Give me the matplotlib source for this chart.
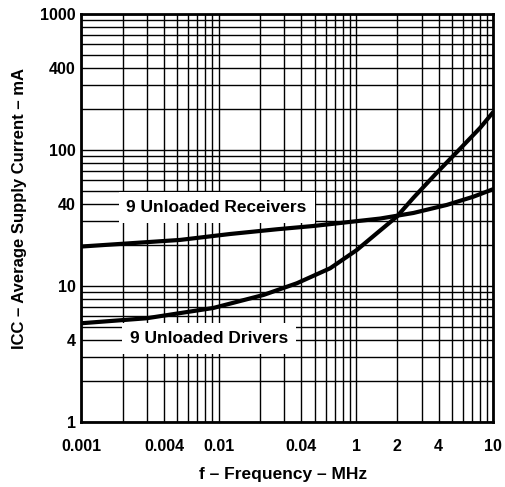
import matplotlib
matplotlib.use("Agg")
import matplotlib.pyplot as plt
from matplotlib.ticker import LogLocator, NullFormatter, FixedLocator, FixedFormatter

# ---- data (x in axis units; tick labels as printed on the chart) ----
recv_f = [0.001, 0.00523, 0.0121, 0.0265, 0.049, 0.15, 0.262, 0.458, 0.716, 1.0]
recv_i = [19.5, 21.8, 24.1, 26.1, 27.6, 31.3, 34.4, 39.4, 45.3, 51.5]

drv_f = [0.001, 0.00299, 0.00914, 0.0212, 0.0371, 0.0648, 0.1014, 0.1417,
         0.198, 0.262, 0.388, 0.573, 0.801, 1.0]
drv_i = [5.33, 5.8, 6.9, 8.6, 10.48, 13.5, 18.4, 24.4,
         32.3, 44.5, 68.0, 102.0, 145.0, 190.0]

x_ticks = [0.001, 0.004, 0.01, 0.04, 0.1, 0.2, 0.4, 1.0]
x_labels = ["0.001", "0.004", "0.01", "0.04", "1", "2", "4", "10"]
y_ticks = [1, 4, 10, 40, 100, 400, 1000]
y_labels = ["1", "4", "10", "40", "100", "400", "1000"]

plt.rcParams["font.family"] = ["Liberation Sans", "DejaVu Sans"]
plt.rcParams["font.weight"] = "bold"

fig = plt.figure(figsize=(5.05, 4.87), dpi=100)
ax = fig.add_axes([0.161, 0.133, 0.816, 0.839])

ax.set_xscale("log")
ax.set_yscale("log")
ax.set_xlim(0.001, 1.0)
ax.set_ylim(1, 1000)

ax.xaxis.set_minor_locator(LogLocator(base=10, subs=range(2, 10)))
ax.yaxis.set_minor_locator(LogLocator(base=10, subs=range(2, 10)))
ax.xaxis.set_minor_formatter(NullFormatter())
ax.yaxis.set_minor_formatter(NullFormatter())
ax.grid(which="both", color="black", linewidth=1.0)
ax.set_axisbelow(True)

ax.xaxis.set_major_locator(FixedLocator(x_ticks))
ax.xaxis.set_major_formatter(FixedFormatter(x_labels))
ax.yaxis.set_major_locator(FixedLocator(y_ticks))
ax.yaxis.set_major_formatter(FixedFormatter(y_labels))
ax.tick_params(which="both", length=0)
ax.tick_params(axis="x", pad=12, labelsize=11.5)
ax.tick_params(axis="y", pad=4, labelsize=11.5)
for lab in ax.get_xticklabels() + ax.get_yticklabels():
    lab.set_fontweight("bold")

for s in ax.spines.values():
    s.set_linewidth(2.0)

ax.plot(recv_f, recv_i, color="black", linewidth=3.0, solid_capstyle="butt", zorder=3)
ax.plot(drv_f, drv_i, color="black", linewidth=3.0, solid_capstyle="butt", zorder=3)

box = dict(boxstyle="square,pad=0.45", facecolor="white", edgecolor="none")
ax.text(0.00966, 37.8, "9 Unloaded Receivers", ha="center", va="center",
        fontsize=12.5, fontweight="bold", bbox=box, zorder=4)
ax.text(0.00849, 4.14, "9 Unloaded Drivers", ha="center", va="center",
        fontsize=12.5, fontweight="bold", bbox=box, zorder=4)

ax.set_xlabel("f \u2013 Frequency \u2013 MHz", fontsize=12.5, fontweight="bold")
ax.set_ylabel("ICC \u2013 Average Supply Current \u2013 mA", fontsize=12, fontweight="bold")
ax.xaxis.set_label_coords(0.49, -0.110)
ax.yaxis.set_label_coords(-0.132, 0.524)

fig.savefig("out.png", dpi=100)
